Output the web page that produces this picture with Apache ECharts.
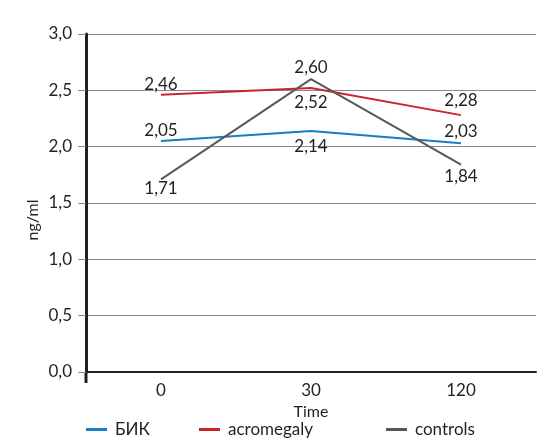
<!DOCTYPE html>
<html>
<head>
<meta charset="utf-8">
<script src="https://cdn.jsdelivr.net/npm/echarts@6/dist/echarts.min.js"></script>
<style>
  html, body { margin: 0; padding: 0; background: #fff; }
  #chart { width: 543px; height: 446px; }
</style>
</head>
<body>
<div id="chart"></div>
<script>
var times = ['0', '30', '120'];
var bik = [2.05, 2.14, 2.03];
var acromegaly = [2.46, 2.52, 2.28];
var controls = [1.71, 2.60, 1.84];
var yTicks = [0, 0.5, 1, 1.5, 2, 2.5, 3];

var textColor = '#231f20';
var font = 'Lato';

function comma(v, digits) {
    return v.toFixed(digits).replace('.', ',');
}

// label above/below each point, like the original
function withLabels(values, places) {
    return values.map(function (v, i) {
        var p = places[i];
        return {
            value: v,
            label: { position: p[0], distance: p[1] }
        };
    });
}

function line(name, color, values, places) {
    return {
        name: name,
        type: 'line',
        data: withLabels(values, places),
        symbol: 'circle',
        symbolSize: 0,
        showSymbol: true,
        lineStyle: { color: color, width: 2 },
        itemStyle: { color: color },
        label: {
            show: true,
            color: textColor,
            fontFamily: font,
            fontSize: 17,
            formatter: function (p) { return comma(p.value, 2); }
        },
        z: 3
    };
}

var myChart = echarts.init(document.getElementById('chart'));
var option = {
    animation: false,
    grid: { left: 86, right: 7, top: 34, bottom: 74 },
    xAxis: {
        type: 'category',
        data: times,
        boundaryGap: true,
        name: 'Time',
        nameLocation: 'middle',
        nameGap: 30,
        nameTextStyle: { color: textColor, fontFamily: font, fontSize: 16 },
        axisLine: { lineStyle: { color: textColor, width: 2 } },
        axisTick: { show: false },
        axisLabel: { color: textColor, fontFamily: font, fontSize: 17, margin: 10 }
    },
    yAxis: {
        type: 'value',
        min: yTicks[0],
        max: yTicks[yTicks.length - 1],
        interval: 0.5,
        axisLine: { show: true, lineStyle: { color: textColor, width: 3 } },
        axisTick: { show: true, length: 8, lineStyle: { color: '#8a8a8a' } },
        splitLine: { lineStyle: { color: '#8a8a8a', width: 1 } },
        axisLabel: {
            color: textColor, fontFamily: font, fontSize: 17, margin: 14,
            formatter: function (v) { return comma(v, 1); }
        }
    },
    legend: [
        { data: ['БИК'], left: 86, top: 421 },
        { data: ['acromegaly'], left: 199, top: 421 },
        { data: ['controls'], left: 386, top: 421 }
    ].map(function (l) {
        l.icon = 'rect';
        l.padding = 0;
        l.itemWidth = 21;
        l.itemHeight = 3;
        l.itemGap = 0;
        l.textStyle = { color: textColor, fontFamily: font, fontSize: 17, padding: [0, 0, 0, 3] };
        return l;
    }),
    series: [
        line('БИК', '#1a7dc4', bik, [['top', 2], ['bottom', 7], ['top', 3]]),
        line('acromegaly', '#c8262c', acromegaly, [['top', 2], ['bottom', 6], ['top', 6]]),
        line('controls', '#58585a', controls, [['bottom', 1], ['top', 3], ['bottom', 3]])
    ]
};
myChart.setOption(option);

// y axis line runs a little past the x axis
var p0 = myChart.convertToPixel({ gridIndex: 0 }, [0, 0]);
var axisX = option.grid.left;
myChart.setOption({
    graphic: [{
        type: 'line',
        shape: { x1: axisX, y1: p0[1], x2: axisX, y2: p0[1] + 11 },
        style: { stroke: textColor, lineWidth: 3 }
    }, {
        type: 'text',
        x: 33, y: 220,
        rotation: Math.PI / 2,
        style: {
            text: 'ng/ml', fill: textColor, font: '16px ' + font,
            align: 'center', verticalAlign: 'middle'
        }
    }]
});
</script>
</body>
</html>
